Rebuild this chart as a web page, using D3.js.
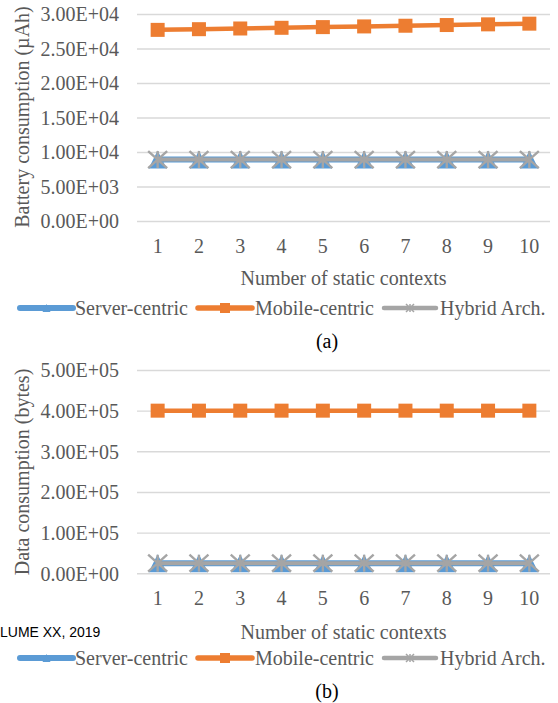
<!DOCTYPE html>
<html>
<head>
<meta charset="utf-8">
<script src="https://cdn.jsdelivr.net/npm/d3@7"></script>
<style>
  html, body { margin: 0; padding: 0; background: #fff; }
  svg { display: block; }
  text { font-family: "Liberation Serif", "Times New Roman", serif; fill: #595959; }
</style>
</head>
<body>
<svg id="chart" width="558" height="703"></svg>
<script>
// Number of static contexts (x categories)
const contexts = ["1", "2", "3", "4", "5", "6", "7", "8", "9", "10"];

// Panel (a): battery consumption in µAh
const batteryServer = [8900, 8900, 8900, 8900, 8900, 8900, 8900, 8900, 8900, 8900];
const batteryMobile = [27700, 27800, 27900, 28000, 28100, 28200, 28300, 28400, 28500, 28600];
const batteryHybrid = [8900, 8900, 8900, 8900, 8900, 8900, 8900, 8900, 8900, 8900];
const batteryTicks = [0, 5000, 10000, 15000, 20000, 25000, 30000];

// Panel (b): data consumption in bytes
const dataServer = [25000, 25000, 25000, 25000, 25000, 25000, 25000, 25000, 25000, 25000];
const dataMobile = [400000, 400000, 400000, 400000, 400000, 400000, 400000, 400000, 400000, 400000];
const dataHybrid = [25000, 25000, 25000, 25000, 25000, 25000, 25000, 25000, 25000, 25000];
const dataTicks = [0, 100000, 200000, 300000, 400000, 500000];

const seriesNames = ["Server-centric", "Mobile-centric", "Hybrid Arch."];
const colors = { server: "#5B9BD5", mobile: "#ED7D31", hybrid: "#A5A5A5" };

const SERIF = '"Liberation Serif", "Times New Roman", serif';
const svg = d3.select("#chart");

// Excel-style scientific label, e.g. 3.00E+04
function sci(v) {
  const [m, e] = v.toExponential(2).split("e");
  const n = parseInt(e, 10);
  return m + "E" + (n < 0 ? "-" : "+") + String(Math.abs(n)).padStart(2, "0");
}

function trianglePath(s) {
  return `M0,${-s / 2}L${s / 2},${s / 2}L${-s / 2},${s / 2}Z`;
}
function starPath(w, h) {
  return `M${-w / 2},${-h / 2}L${w / 2},${h / 2}M${w / 2},${-h / 2}L${-w / 2},${h / 2}M0,${-h / 2}L0,${h / 2}`;
}

function drawPanel(cfg) {
  const g = svg.append("g");
  const x = d3.scaleBand().domain(contexts).range([137, 550]).paddingInner(0).paddingOuter(0);
  const y = d3.scaleLinear().domain([0, d3.max(cfg.ticks)]).range([cfg.y0, cfg.y1]);
  const cx = d => x(d) + x.bandwidth() / 2;

  // gridlines
  g.append("g")
    .attr("transform", "translate(137,0)")
    .call(d3.axisLeft(y).tickValues(cfg.ticks).tickSize(-(550 - 137)).tickFormat(""))
    .call(a => a.select(".domain").remove())
    .call(a => a.selectAll("line").attr("stroke", "#D9D9D9").attr("stroke-width", 1.4));

  // y tick labels
  g.append("g")
    .attr("transform", "translate(119,0)")
    .call(d3.axisLeft(y).tickValues(cfg.ticks).tickSize(0).tickPadding(0).tickFormat(sci))
    .call(a => a.select(".domain").remove())
    .call(a => a.selectAll("text")
      .style("font-family", SERIF).style("font-size", "20px").style("fill", "#595959")
      .attr("dy", "0.34em"));

  // x tick labels
  g.append("g")
    .attr("transform", `translate(0,${cfg.xLabelY})`)
    .call(d3.axisBottom(x).tickSize(0).tickPadding(0))
    .call(a => a.select(".domain").remove())
    .call(a => a.selectAll("text")
      .style("font-family", SERIF).style("font-size", "20px").style("fill", "#595959")
      .attr("dy", 0));

  // axis titles
  g.append("text")
    .attr("x", 343.5).attr("y", cfg.xTitleY)
    .attr("text-anchor", "middle").style("font-size", "20px")
    .text("Number of static contexts");
  g.append("text")
    .attr("transform", `translate(29,${cfg.yTitleC}) rotate(-90)`)
    .attr("text-anchor", "middle").style("font-size", "20px")
    .text(cfg.yTitle);

  const line = d3.line().x((d, i) => cx(contexts[i])).y(d => y(d));

  // Server-centric
  g.append("path").datum(cfg.server).attr("d", line)
    .attr("fill", "none").attr("stroke", colors.server).attr("stroke-width", 6);
  g.selectAll(".tri").data(cfg.server).join("path")
    .attr("transform", (d, i) => `translate(${cx(contexts[i])},${y(d)})`)
    .attr("d", trianglePath(18)).attr("fill", colors.server);

  // Mobile-centric
  g.append("path").datum(cfg.mobile).attr("d", line)
    .attr("fill", "none").attr("stroke", colors.mobile).attr("stroke-width", 4.5);
  g.selectAll(".sq").data(cfg.mobile).join("rect")
    .attr("x", (d, i) => cx(contexts[i]) - 7).attr("y", d => y(d) - 7)
    .attr("width", 14).attr("height", 14).attr("fill", colors.mobile);

  // Hybrid Arch.
  g.append("path").datum(cfg.hybrid).attr("d", line)
    .attr("fill", "none").attr("stroke", colors.hybrid).attr("stroke-width", 4);
  g.selectAll(".star").data(cfg.hybrid).join("path")
    .attr("transform", (d, i) => `translate(${cx(contexts[i])},${y(d)})`)
    .attr("d", starPath(19, 17)).attr("fill", "none")
    .attr("stroke", colors.hybrid).attr("stroke-width", 2.4);

  // legend
  const lg = g.append("g").attr("transform", `translate(0,${cfg.legendY})`);
  const items = [
    { name: seriesNames[0], c: colors.server, x0: 20, x1: 73, w: 6, tx: 75, m: "tri" },
    { name: seriesNames[1], c: colors.mobile, x0: 198, x1: 252, w: 5.5, tx: 255, m: "sq" },
    { name: seriesNames[2], c: colors.hybrid, x0: 384, x1: 436, w: 4.5, tx: 440, m: "star" }
  ];
  items.forEach(it => {
    lg.append("line").attr("x1", it.x0).attr("x2", it.x1).attr("y1", 0).attr("y2", 0)
      .attr("stroke", it.c).attr("stroke-width", it.w).attr("stroke-linecap", "round");
    const mx = (it.x0 + it.x1) / 2;
    if (it.m === "tri") {
      lg.append("path").attr("transform", `translate(${mx},0)`).attr("d", trianglePath(8)).attr("fill", it.c);
    } else if (it.m === "sq") {
      lg.append("rect").attr("x", mx - 5).attr("y", -5).attr("width", 10).attr("height", 10).attr("fill", it.c);
    } else {
      lg.append("path").attr("transform", `translate(${mx},0)`).attr("d", starPath(8, 8))
        .attr("fill", "none").attr("stroke", it.c).attr("stroke-width", 1.5);
    }
    lg.append("text").attr("x", it.tx).attr("y", 7).style("font-size", "20px").text(it.name);
  });

  // sub-caption
  g.append("text").attr("x", 327).attr("y", cfg.capY)
    .attr("text-anchor", "middle").style("font-size", "20px")
    .style("fill", "#000").text(cfg.caption);
}

drawPanel({
  ticks: batteryTicks, y0: 221, y1: 14,
  server: batteryServer, mobile: batteryMobile, hybrid: batteryHybrid,
  yTitle: "Battery consumption (µAh)", yTitleC: 117,
  xLabelY: 253, xTitleY: 285, legendY: 308, capY: 348, caption: "(a)"
});

drawPanel({
  ticks: dataTicks, y0: 573.3, y1: 370,
  server: dataServer, mobile: dataMobile, hybrid: dataHybrid,
  yTitle: "Data consumption (bytes)", yTitleC: 472,
  xLabelY: 605, xTitleY: 639, legendY: 658, capY: 698, caption: "(b)"
});

// page footer running text
svg.append("text")
  .attr("x", 0).attr("y", 637)
  .style("font-family", '"Liberation Sans", Arial, sans-serif').style("font-size", "14px")
  .style("fill", "#000")
  .text("LUME XX, 2019");
</script>
</body>
</html>
